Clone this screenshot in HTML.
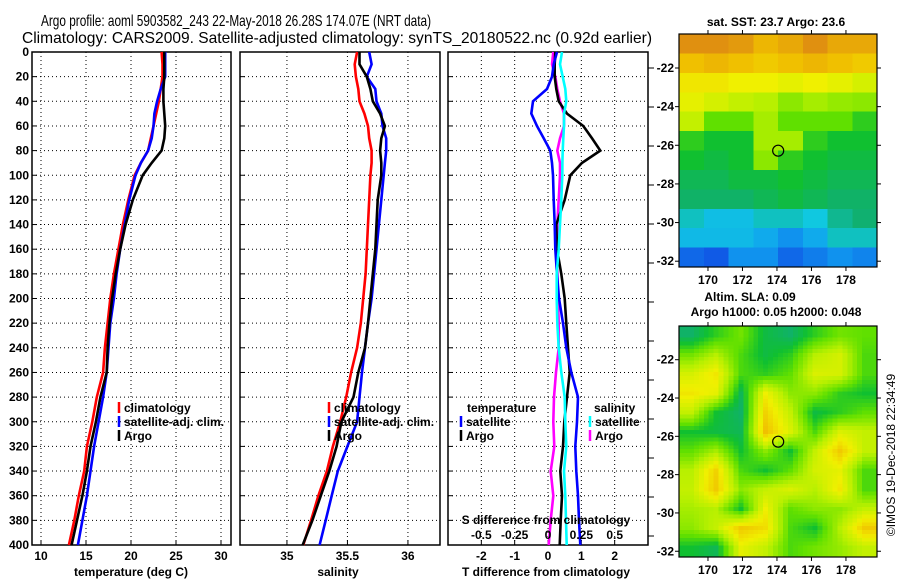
<!DOCTYPE html>
<html><head><meta charset="utf-8"><style>
html,body{margin:0;padding:0;background:#fff;}
svg{display:block;font-family:"Liberation Sans",Arial,sans-serif;}
.b{font-weight:bold;font-size:12px;}
</style></head><body>
<svg id="c" width="900" height="580" viewBox="0 0 900 580" xmlns="http://www.w3.org/2000/svg">
<text x="236" y="26" text-anchor="middle" font-size="16" textLength="390" lengthAdjust="spacingAndGlyphs">Argo profile: aoml 5903582_243 22-May-2018 26.28S 174.07E (NRT data)</text>
<text x="337" y="43" text-anchor="middle" font-size="16" textLength="630" lengthAdjust="spacingAndGlyphs">Climatology: CARS2009. Satellite-adjusted climatology: synTS_20180522.nc (0.92d earlier)</text>
<g id="plots"></g>
<g id="maps"></g>
<text transform="translate(895,455) rotate(-90)" text-anchor="middle" font-size="12">©IMOS 19-Dec-2018 22:34:49</text>
</svg>
<script>
const depths=[0,10,20,30,40,50,60,70,80,90,100,120,140,160,180,200,220,240,260,280,300,320,340,360,380,400];
const tempClim=[23.4,23.5,23.5,23.3,23.1,22.8,22.5,22.2,21.9,21.1,20.4,19.7,19.1,18.6,18.1,17.7,17.4,17.1,16.9,16.2,15.7,15.1,14.8,14.2,13.7,13.1];
const tempSat=[23.8,23.8,23.8,23.3,22.9,22.6,22.5,22.3,21.9,21.1,20.5,19.8,19.3,18.8,18.4,18.1,17.7,17.5,17.3,16.9,16.4,15.9,15.5,15.1,14.6,14.1];
const tempArgo=[23.7,23.7,23.7,23.6,23.6,23.7,23.8,23.7,23.4,22.3,21.3,20.2,19.4,18.8,18.3,17.9,17.6,17.4,17.3,16.6,16.1,15.5,15.1,14.6,14.0,13.4];
const salClim=[35.58,35.56,35.57,35.59,35.60,35.64,35.67,35.68,35.70,35.70,35.69,35.68,35.67,35.66,35.65,35.63,35.61,35.58,35.53,35.49,35.44,35.38,35.33,35.26,35.20,35.135];
const salSat=[35.68,35.70,35.66,35.73,35.74,35.78,35.79,35.82,35.82,35.81,35.80,35.78,35.76,35.74,35.72,35.70,35.67,35.645,35.62,35.60,35.58,35.50,35.42,35.37,35.32,35.27];
const salArgo=[35.60,35.60,35.66,35.69,35.71,35.77,35.81,35.78,35.77,35.78,35.78,35.75,35.74,35.73,35.71,35.69,35.67,35.645,35.59,35.55,35.45,35.41,35.35,35.28,35.21,35.13];
const dTSat=[0.27,0.17,0.12,-0.03,-0.45,-0.5,-0.33,-0.13,0.07,0.12,0.15,0.17,0.2,0.22,0.27,0.33,0.45,0.55,0.7,0.9,0.87,0.82,0.85,0.9,0.93,0.97];
const dTArgo=[0.22,0.2,0.2,0.25,0.32,0.57,1.06,1.32,1.57,1.02,0.67,0.5,0.25,0.27,0.4,0.5,0.55,0.6,0.65,0.57,0.49,0.45,0.37,0.42,0.38,0.35];
const dSArgo=[0.04,0.03,0.055,0.07,0.09,0.12,0.12,0.09,0.07,0.09,0.09,0.08,0.07,0.07,0.07,0.075,0.08,0.08,0.06,0.045,0.04,0.047,0.02,0.04,0.02,0.005];
const dSSat=[0.105,0.09,0.11,0.13,0.137,0.12,0.12,0.115,0.11,0.108,0.107,0.1,0.09,0.08,0.065,0.065,0.07,0.08,0.1,0.125,0.13,0.137,0.12,0.13,0.135,0.14];
const depthTicks=[0,20,40,60,80,100,120,140,160,180,200,220,240,260,280,300,320,340,360,380,400];
const tempTicks=[10,15,20,25,30];
const salTicks=[35,35.5,36];
const salTickLabels=["35","35.5","36"];
const dTTicks=[-2,-1,0,1,2];
const dSTicks=[-0.5,-0.25,0,0.25,0.5];
const dSTickLabels=["-0.5","-0.25","0","0.25","0.5"];
const sstGrid=[
[0.9,0.95,0.88,0.82,0.85,0.9,0.85,0.85],
[0.8,0.82,0.8,0.78,0.8,0.82,0.8,0.78],
[0.72,0.72,0.7,0.7,0.68,0.7,0.68,0.65],
[0.68,0.65,0.62,0.6,0.55,0.58,0.56,0.55],
[0.62,0.5,0.5,0.58,0.5,0.5,0.5,0.45],
[0.45,0.42,0.42,0.58,0.58,0.45,0.42,0.42],
[0.42,0.4,0.42,0.55,0.45,0.42,0.4,0.4],
[0.38,0.38,0.4,0.4,0.42,0.4,0.38,0.38],
[0.36,0.36,0.36,0.38,0.4,0.38,0.36,0.36],
[0.3,0.26,0.26,0.3,0.3,0.28,0.33,0.35],
[0.25,0.25,0.25,0.22,0.18,0.22,0.3,0.3],
[0.12,0.1,0.18,0.18,0.12,0.15,0.18,0.16]];
const slaGrid=[
[0.36,0.45,0.52,0.4,0.36,0.45,0.52,0.5],
[0.52,0.6,0.48,0.4,0.45,0.6,0.65,0.48],
[0.65,0.72,0.48,0.45,0.5,0.66,0.65,0.48],
[0.72,0.68,0.38,0.7,0.55,0.55,0.45,0.42],
[0.62,0.42,0.36,0.76,0.62,0.4,0.45,0.5],
[0.42,0.4,0.38,0.8,0.66,0.48,0.66,0.62],
[0.5,0.58,0.42,0.55,0.42,0.62,0.78,0.62],
[0.6,0.76,0.48,0.42,0.5,0.65,0.68,0.48],
[0.62,0.78,0.55,0.62,0.66,0.6,0.72,0.48],
[0.58,0.6,0.42,0.7,0.5,0.55,0.55,0.62],
[0.55,0.62,0.78,0.74,0.48,0.42,0.6,0.78],
[0.42,0.38,0.68,0.62,0.48,0.52,0.56,0.62]];
const lonTicks=[170,172,174,176,178];
const latTicks=[-22,-24,-26,-28,-30,-32];
const argoLon=174.07, argoLat=-26.28;

const NS="http://www.w3.org/2000/svg";
function mk(tag,attrs,parent,txt){const e=document.createElementNS(NS,tag);for(const k in attrs)e.setAttribute(k,attrs[k]);if(txt!==undefined)e.textContent=txt;parent.appendChild(e);return e;}
const plots=document.getElementById('plots');
const Y0=52,Y1=545;
const yD=d=>Y0+d/400*(Y1-Y0);

function panel(name,x0,x1,xmin,xmax){
  const g=mk('g',{},plots);
  
  
  return {g,x0,x1,sx:v=>x0+(v-xmin)/(xmax-xmin)*(x1-x0)};
}
function frame(p,xt,xl,showY){
  depthTicks.forEach(d=>{
    const y=yD(d);
    if(d>0&&d<400){const l=mk('line',{x1:p.x0,x2:p.x1,y1:y,y2:y,stroke:'#000','stroke-width':1,'stroke-dasharray':'1,3'},p.g);
    
    }
    mk('line',{x1:p.x0,x2:p.x0+5,y1:y,y2:y,stroke:'#000'},p.g);
    if(showY){const t=mk('text',{x:p.x0-3,y:y+4,'text-anchor':'end',class:'b'},p.g,String(d));
    
    }
  });
  xt.forEach((v,i)=>{
    const x=p.sx(v);
    const l=mk('line',{x1:x,x2:x,y1:Y0,y2:Y1,stroke:'#000','stroke-dasharray':'1,3'},p.g);
    
    
    mk('line',{x1:x,x2:x,y1:Y1,y2:Y1-5,stroke:'#000'},p.g);
    const t=mk('text',{x:x,y:560,'text-anchor':'middle',class:'b'},p.g,xl[i]);
    
    
  });
  const r=mk('rect',{x:p.x0,y:Y0,width:p.x1-p.x0,height:Y1-Y0,fill:'none',stroke:'#000','stroke-width':1.5},p.g);
  
  
}
function series(p,vals,col,name,sx){
  const f=sx||p.sx;
  const pts=vals.map((v,i)=>f(v).toFixed(1)+','+yD(depths[i]).toFixed(1)).join(' ');
  const l=mk('polyline',{points:pts,fill:'none',stroke:col,'stroke-width':2.6,'stroke-linejoin':'miter'},p.g);
  
  
}
function legendItem(p,x,y,col,txt,name){
  mk('line',{x1:x,x2:x,y1:y-10,y2:y+1,stroke:col,'stroke-width':2.5},p.g);
  const t=mk('text',{x:x+5,y:y,class:'b'},p.g,txt);
  
  
}
const p1=panel('temperature-panel',32,231,9,31.11);
frame(p1,tempTicks,tempTicks.map(String),true);
series(p1,tempClim,'#f00','temp-climatology-line');
series(p1,tempSat,'#00f','temp-satellite-line');
series(p1,tempArgo,'#000','temp-argo-line');
legendItem(p1,119,412,'#f00','climatology','legend-climatology');
legendItem(p1,119,426,'#00f','satellite-adj. clim.','legend-satellite');
legendItem(p1,119,440,'#000','Argo','legend-argo');
{const t=mk('text',{x:131,y:576,'text-anchor':'middle',class:'b'},p1.g,'temperature (deg C)');

}
const p2=panel('salinity-panel',240,440,34.612,36.265);
frame(p2,salTicks,salTickLabels,false);
series(p2,salClim,'#f00','sal-climatology-line');
series(p2,salSat,'#00f','sal-satellite-line');
series(p2,salArgo,'#000','sal-argo-line');
legendItem(p2,329,412,'#f00','climatology','legend-climatology');
legendItem(p2,329,426,'#00f','satellite-adj. clim.','legend-satellite');
legendItem(p2,329,440,'#000','Argo','legend-argo');
{const t=mk('text',{x:338,y:576,'text-anchor':'middle',class:'b'},p2.g,'salinity');

}
const p3=panel('difference-panel',448,648,-3,3);
const sS=v=>p3.sx(v*4);
frame(p3,dTTicks,dTTicks.map(String),false);
for(let k=0;k<13;k++){mk('line',{x1:648,x2:654,y1:68+39*k,y2:68+39*k,stroke:'#000'},p3.g);}
series(p3,dSArgo,'#f0f','sdiff-argo-line',sS);
series(p3,dTArgo,'#000','tdiff-argo-line');
series(p3,dTSat,'#00f','tdiff-satellite-line');
series(p3,dSSat,'#0ff','sdiff-satellite-line',sS);
{const t=mk('text',{x:467,y:412,class:'b'},p3.g,'temperature');

}
legendItem(p3,461,426,'#00f','satellite','legend-t-satellite');
legendItem(p3,461,440,'#000','Argo','legend-t-argo');
{const t=mk('text',{x:594,y:412,class:'b'},p3.g,'salinity');

}
legendItem(p3,590,426,'#0ff','satellite','legend-s-satellite');
legendItem(p3,590,440,'#f0f','Argo','legend-s-argo');
{const t=mk('text',{x:546,y:524,'text-anchor':'middle',class:'b'},p3.g,'S difference from climatology');

}
dSTicks.forEach((v,i)=>{const t=mk('text',{x:sS(v),y:539,'text-anchor':'middle',class:'b'},p3.g,dSTickLabels[i]);

});
{const t=mk('text',{x:546,y:576,'text-anchor':'middle',class:'b'},p3.g,'T difference from climatology');

}

const maps=document.getElementById('maps');
const stops=[[0.1,[16,90,230]],[0.2,[16,160,240]],[0.28,[16,200,224]],[0.35,[16,176,112]],[0.42,[16,192,48]],[0.5,[96,224,0]],[0.6,[184,240,0]],[0.7,[240,240,0]],[0.8,[240,192,0]],[0.9,[224,144,16]]];
function cmap(v){
  if(v<=stops[0][0])return 'rgb('+stops[0][1]+')';
  for(let i=1;i<stops.length;i++){if(v<=stops[i][0]){const a=stops[i-1],b=stops[i],t=(v-a[0])/(b[0]-a[0]);
    return 'rgb('+a[1].map((c,j)=>Math.round(c+(b[1][j]-c)*t)).join(',')+')';}}
  return 'rgb('+stops[stops.length-1][1]+')';
}
function sample(grid,fr,fc){
  const R=grid.length,C=grid[0].length;
  const r=Math.max(0,Math.min(R-1,fr)),c=Math.max(0,Math.min(C-1,fc));
  const r0=Math.floor(r),c0=Math.floor(c),r1=Math.min(R-1,r0+1),c1=Math.min(C-1,c0+1),tr=r-r0,tc=c-c0;
  return grid[r0][c0]*(1-tr)*(1-tc)+grid[r0][c1]*(1-tr)*tc+grid[r1][c0]*tr*(1-tc)+grid[r1][c1]*tr*tc;
}
function drawMap(name,grid,x0,y0,w,h,up,titles){
  const g=mk('g',{},maps);
  
  
  const lonMin=168.32,lonMax=179.8,latMax=-20.24,latMin=-32.3;
  const sx=lo=>x0+(lo-lonMin)/(lonMax-lonMin)*w;
  const sy=la=>y0+(latMax-la)/(latMax-latMin)*h;
  const ig=mk('g',{'shape-rendering':'crispEdges'},g);
  const rows=grid.length*up,cols=grid[0].length*up,cw=w/cols,ch=h/rows;
  for(let r=0;r<rows;r++)for(let c=0;c<cols;c++){
    const v=up>1?sample(grid,(r+0.5)/up-0.5,(c+0.5)/up-0.5):grid[r][c];
    const e=mk('rect',{x:(x0+c*cw).toFixed(2),y:(y0+r*ch).toFixed(2),width:(cw+0.6).toFixed(2),height:(ch+0.6).toFixed(2),fill:cmap(v)},ig);
    
    
  }
  const ci=mk('circle',{cx:sx(argoLon),cy:sy(argoLat),r:5.5,fill:'none',stroke:'#000','stroke-width':1.2},g);
  
  
  mk('rect',{x:x0,y:y0,width:w,height:h,fill:'none',stroke:'#000','stroke-width':1.2},g);
  lonTicks.forEach(lo=>{const x=sx(lo);
    mk('line',{x1:x,x2:x,y1:y0-4,y2:y0,stroke:'#000'},g);
    mk('line',{x1:x,x2:x,y1:y0+h,y2:y0+h+4,stroke:'#000'},g);
    const t=mk('text',{x:x,y:y0+h+17,'text-anchor':'middle',class:'b'},g,String(lo));
    
    });
  latTicks.forEach(la=>{const y=sy(la);
    mk('line',{x1:x0-4,x2:x0,y1:y,y2:y,stroke:'#000'},g);
    mk('line',{x1:x0+w,x2:x0+w+4,y1:y,y2:y,stroke:'#000'},g);
    const t=mk('text',{x:x0-5,y:y+4,'text-anchor':'end',class:'b'},g,String(la));
    
    });
  titles.forEach(tt=>{const t=mk('text',{x:tt[0],y:tt[1],'text-anchor':'middle',class:'b'},g,tt[2]);
    
    });
}
drawMap('sst-map',sstGrid,679,34,198,233,1,[[776,26,'sat. SST: 23.7 Argo: 23.6']]);
drawMap('sla-map',slaGrid,679,326,198,231,5,[[750,301,'Altim. SLA: 0.09'],[776,316,'Argo h1000: 0.05 h2000: 0.048']]);
</script>
</body></html>
